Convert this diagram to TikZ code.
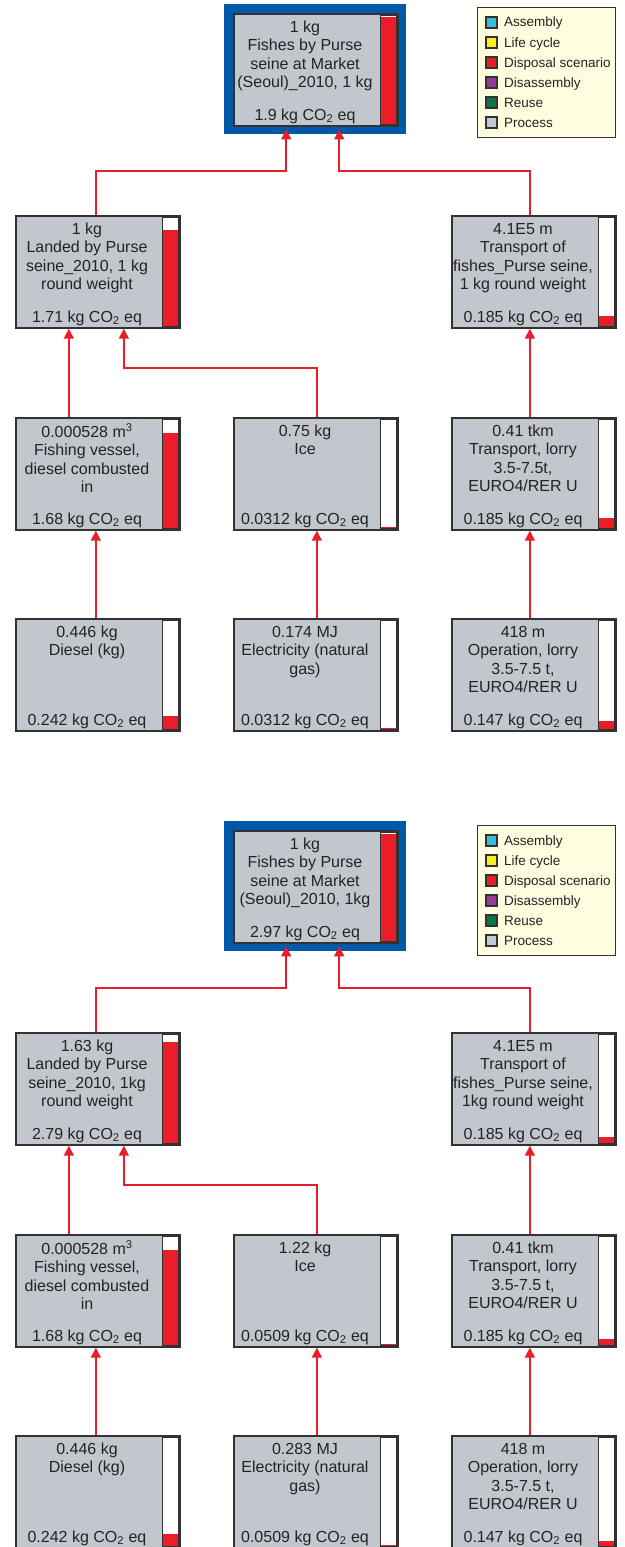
\documentclass[tikz,border=0pt]{standalone}
\usepackage{fontspec}
\setmainfont{Liberation Sans}
\usetikzlibrary{calc,arrows.meta}
\definecolor{boxgray}{RGB}{193,199,204}
\definecolor{txt}{RGB}{35,35,35}
\definecolor{edge}{RGB}{50,50,50}
\definecolor{lnred}{RGB}{234,30,40}
\definecolor{frameblue}{RGB}{0,88,168}
\definecolor{legbg}{RGB}{255,253,224}
\definecolor{lgcyan}{RGB}{52,190,215}
\definecolor{lgyellow}{RGB}{250,238,30}
\definecolor{lgpurple}{RGB}{150,60,150}
\definecolor{lggreen}{RGB}{10,120,70}
\definecolor{lgproc}{RGB}{195,200,215}
\tikzset{
  pbox/.style={draw=edge, line width=1.7pt, fill=boxgray, minimum width=164pt, minimum height=112pt, inner sep=0pt, anchor=north west},
  ptext/.style={anchor=north, align=center, inner sep=0pt, text=txt, font=\fontsize{16}{18.5}\selectfont},
  pval/.style={anchor=base, inner sep=0pt, text=txt, font=\fontsize{16}{18.5}\selectfont},
  barframe/.style={draw=edge, line width=1.4pt},
  conn/.style={draw=lnred, line width=1.6pt, -{Triangle[width=10pt,length=10pt]}},
  legtext/.style={anchor=base west, inner sep=0pt, text=txt, font=\fontsize{13.5}{15}\selectfont},
  legsq/.style={draw=edge, line width=1.1pt},
  frame/.style={fill=frameblue, minimum width=182pt, minimum height=130pt, inner sep=0pt, anchor=north west},
  legbox/.style={draw=edge, line width=1.4pt, fill=legbg, minimum width=138pt, minimum height=130pt, inner sep=0pt, anchor=north west}
}
\newcommand{\pbox}[6]{%
  \node[pbox] (#1) at (#2,#3) {};
  \node[ptext] (#1-t) at ([xshift=72pt,yshift=-6pt]#1.north west) {\rule{0pt}{13pt}#5};
  \node[pval] (#1-v) at ([xshift=72pt,yshift=6.5pt]#1.south west) {#6};
  \fill[white] ([xshift=-18pt,yshift=-2pt]#1.north east) rectangle ([xshift=-2pt,yshift=2pt]#1.south east);
  \fill[lnred] ([xshift=-18pt,yshift=2pt]#1.south east) rectangle ++(16,-#4*108);
  \draw[barframe] ([xshift=-18pt,yshift=-2pt]#1.north east) rectangle ([xshift=-2pt,yshift=2pt]#1.south east);
}
\newcommand{\CO}{kg CO\textsubscript{2} eq}
\newcommand{\legendat}[3]{% name, x, y
  \node[legbox] (#1) at (#2,#3) {};
  \foreach \c/\t [count=\i from 0] in {lgcyan/Assembly, lgyellow/Life cycle, lnred/Disposal scenario, lgpurple/Disassembly, lggreen/Reuse, lgproc/Process}{
    \draw[legsq, fill=\c] ([xshift=9pt,yshift={-10pt-20pt*\i}]#1.north west) rectangle ++(11,11);
    \node[legtext] at ([xshift=27pt,yshift={-20pt-20pt*\i}]#1.north west) {\t};
  }
}
\begin{document}
\begin{tikzpicture}[x=1pt,y=-1pt]
\useasboundingbox[fill=white] (0,0) rectangle (624,1547);

% ================= upper diagram =================
\node[frame] (Afr) at (224,4) {};
\pbox{Atop}{233}{13}{1}{1 kg\\Fishes by Purse\\seine at Market\\(Seoul)\_2010, 1 kg}{1.9 \CO}
\legendat{Aleg}{477}{7}
\pbox{Aland}{15}{215}{0.9}{1 kg\\Landed by Purse\\seine\_2010, 1 kg\\round weight}{1.71 \CO}
\pbox{Atrf}{451}{215}{0.097}{4.1E5 m\\Transport of\\fishes\_Purse seine,\\1 kg round weight}{0.185 \CO}
\pbox{Avess}{15}{417}{0.884}{0.000528 m\textsuperscript{3}\\Fishing vessel,\\diesel combusted\\in}{1.68 \CO}
\pbox{Aice}{233}{417}{0.016}{0.75 kg\\Ice}{0.0312 \CO}
\pbox{Alorry}{451}{417}{0.097}{0.41 tkm\\Transport, lorry\\3.5-7.5t,\\EURO4/RER U}{0.185 \CO}
\pbox{Adies}{15}{618}{0.127}{0.446 kg\\Diesel (kg)}{0.242 \CO}
\pbox{Aelec}{233}{618}{0.016}{0.174 MJ\\Electricity (natural\\gas)}{0.0312 \CO}
\pbox{Aop}{451}{618}{0.077}{418 m\\Operation, lorry\\3.5-7.5 t,\\EURO4/RER U}{0.147 \CO}

\draw[conn] ([xshift=-2pt]Aland.north) |- (95,171) -| ([xshift=-29pt,yshift=5pt]Afr.south);
\draw[conn] ([xshift=-4pt]Atrf.north) |- (529,171) -| ([xshift=24pt,yshift=5pt]Afr.south);
\draw[conn] ([xshift=-29pt]Avess.north) -- ([xshift=-29pt]Aland.south);
\draw[conn] ([xshift=1pt]Aice.north) |- (316,368) -| ([xshift=26pt]Aland.south);
\draw[conn] ([xshift=-4pt]Alorry.north) -- ([xshift=-4pt]Atrf.south);
\draw[conn] ([xshift=-2pt]Adies.north) -- ([xshift=-2pt]Avess.south);
\draw[conn] ([xshift=1pt]Aelec.north) -- ([xshift=1pt]Aice.south);
\draw[conn] ([xshift=-4pt]Aop.north) -- ([xshift=-4pt]Alorry.south);

% ================= lower diagram =================
\node[frame] (Bfr) at (224,821) {};
\pbox{Btop}{233}{830}{1}{1 kg\\Fishes by Purse\\seine at Market\\(Seoul)\_2010, 1kg}{2.97 \CO}
\legendat{Bleg}{477}{825}
\pbox{Bland}{15}{1032}{0.94}{1.63 kg\\Landed by Purse\\seine\_2010, 1kg\\round weight}{2.79 \CO}
\pbox{Btrf}{451}{1032}{0.065}{4.1E5 m\\Transport of\\fishes\_Purse seine,\\1kg round weight}{0.185 \CO}
\pbox{Bvess}{15}{1234}{0.884}{0.000528 m\textsuperscript{3}\\Fishing vessel,\\diesel combusted\\in}{1.68 \CO}
\pbox{Bice}{233}{1234}{0.017}{1.22 kg\\Ice}{0.0509 \CO}
\pbox{Blorry}{451}{1234}{0.065}{0.41 tkm\\Transport, lorry\\3.5-7.5 t,\\EURO4/RER U}{0.185 \CO}
\pbox{Bdies}{15}{1435}{0.117}{0.446 kg\\Diesel (kg)}{0.242 \CO}
\pbox{Belec}{233}{1435}{0.017}{0.283 MJ\\Electricity (natural\\gas)}{0.0509 \CO}
\pbox{Bop}{451}{1435}{0.052}{418 m\\Operation, lorry\\3.5-7.5 t,\\EURO4/RER U}{0.147 \CO}

\draw[conn] ([xshift=-2pt]Bland.north) |- (95,988) -| ([xshift=-29pt,yshift=5pt]Bfr.south);
\draw[conn] ([xshift=-4pt]Btrf.north) |- (529,988) -| ([xshift=24pt,yshift=5pt]Bfr.south);
\draw[conn] ([xshift=-29pt]Bvess.north) -- ([xshift=-29pt]Bland.south);
\draw[conn] ([xshift=1pt]Bice.north) |- (316,1185) -| ([xshift=26pt]Bland.south);
\draw[conn] ([xshift=-4pt]Blorry.north) -- ([xshift=-4pt]Btrf.south);
\draw[conn] ([xshift=-2pt]Bdies.north) -- ([xshift=-2pt]Bvess.south);
\draw[conn] ([xshift=1pt]Belec.north) -- ([xshift=1pt]Bice.south);
\draw[conn] ([xshift=-4pt]Bop.north) -- ([xshift=-4pt]Blorry.south);
\end{tikzpicture}
\end{document}
